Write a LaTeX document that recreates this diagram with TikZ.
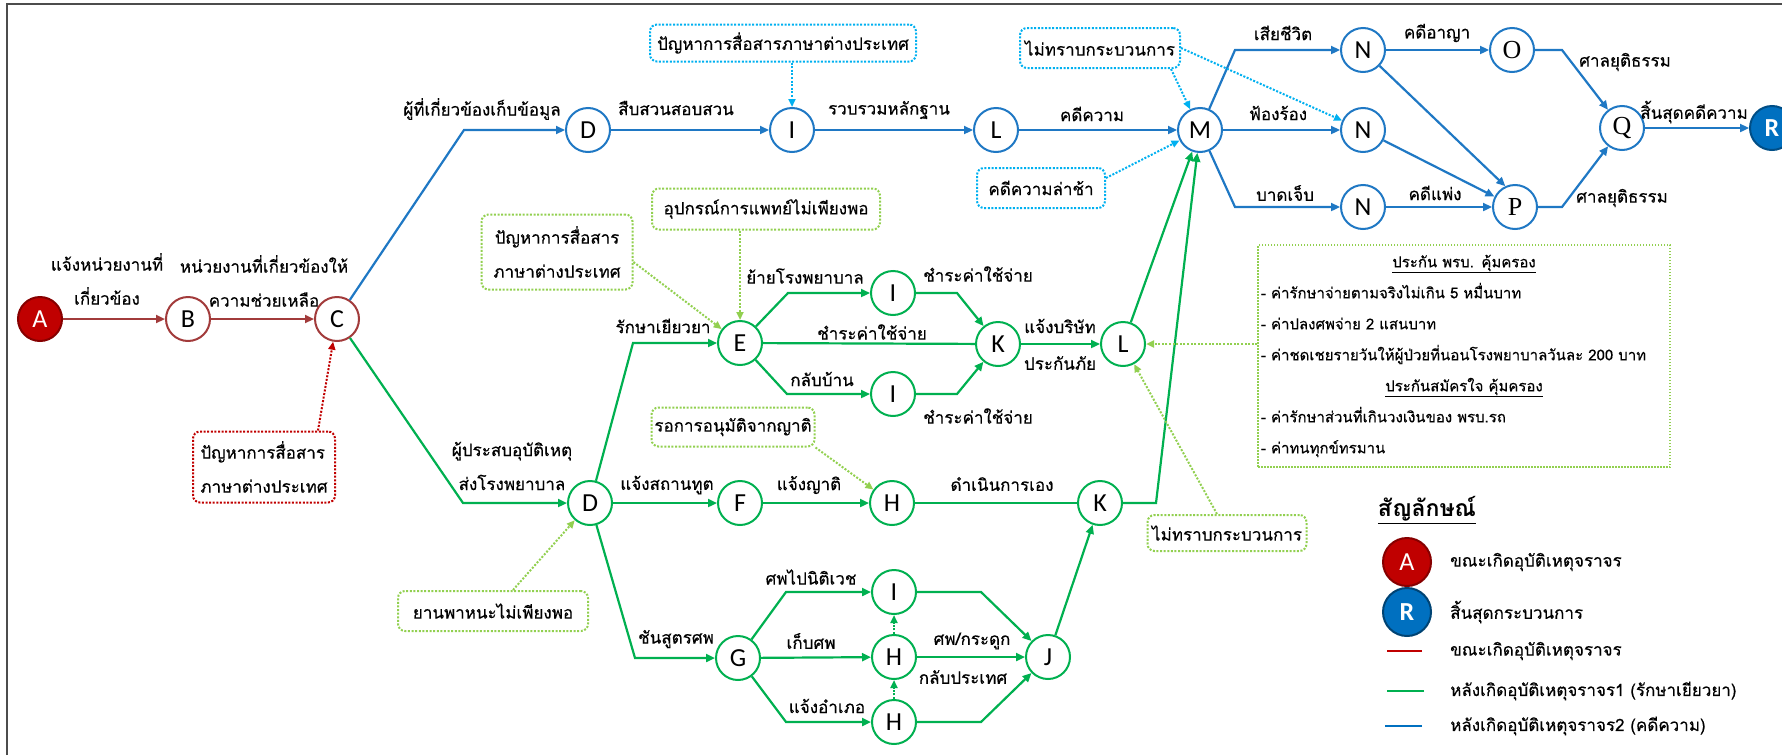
\documentclass[tikz,border=0pt]{standalone}
\usepackage{fontspec}
\setmainfont[Script=Thai,UprightFeatures={FakeBold=0.4}]{Loma}
\newfontfamily\ltrfont{Carlito}
\newfontfamily\serfont{Liberation Serif}
\usetikzlibrary{arrows.meta,positioning}

\definecolor{rdline}{HTML}{A23B3B}
\definecolor{rdfill}{HTML}{C00000}
\definecolor{blline}{HTML}{1F78C4}
\definecolor{blfill}{HTML}{0070C0}
\definecolor{grline}{HTML}{00B050}
\definecolor{grdot}{HTML}{92D050}
\definecolor{bldot}{HTML}{00B0F0}

\tikzset{
  stn/.style={circle,draw,line width=2pt,minimum size=44pt,inner sep=0pt,fill=white,
    font=\ltrfont\fontsize{26}{26}\selectfont},
  rn/.style={stn,draw=rdline},
  bn/.style={stn,draw=blline},
  gn/.style={stn,draw=grline},
  lbl/.style={font=\fontsize{17}{34}\selectfont,align=center,inner sep=1pt},
  tip/.style={-{Triangle[length=9pt,width=8pt]}},
  rline/.style={draw=rdline,line width=2.2pt},
  bline/.style={draw=blline,line width=2.2pt},
  gline/.style={draw=grline,line width=2.2pt},
  dots/.style={line width=2pt,dash pattern=on 2pt off 1.6pt},
  dbox/.style={lbl,dots,rounded corners=7pt,inner sep=0pt},
  dtip/.style={dots,-{Triangle[length=8pt,width=7pt]}},
  lgtxt/.style={lbl,anchor=west},
}

\begin{document}
\begin{tikzpicture}[x=1pt,y=-1pt]
\useasboundingbox (0,0) rectangle (1782,755);
\draw[line width=1.5pt,black!70] (7,755) -- (7,4) -- (1782,4);

% red part
\node[stn,fill=rdfill,draw=rdfill!70!black,text=white] (A) at (40,319) {A};
\node[rn] (B) at (188,319) {B};
\node[rn] (C) at (337,319) {C};
\node[lbl] (lAB) at (107,279) {แจ้งหน่วยงานที่\\เกี่ยวข้อง};
\node[lbl] (lBC) at (264,281) {หน่วยงานที่เกี่ยวข้องให้\\ความช่วยเหลือ};
\node[dbox,draw=rdfill,minimum width=142pt,minimum height=71pt,align=left] (rbox) at (264,467) {ปัญหาการสื่อสาร\\ภาษาต่างประเทศ};
\draw[rline,tip] (A) -- (B);
\draw[rline,tip] (B) -- (C);
\draw[dtip,rdfill] ([xshift=54pt]rbox.north) -- (C);

% blue part
\node[bn] (D1) at (588,130) {D};
\node[bn] (I1) at (792,130) {I};
\node[bn] (L1) at (996,130) {L};
\node[bn] (M) at (1200,130) {M};
\node[bn] (N1) at (1363,50) {N};
\node[bn] (N2) at (1363,130) {N};
\node[bn] (N3) at (1363,207) {N};
\node[bn,font=\serfont\fontsize{26}{26}\selectfont] (O) at (1512,50) {O};
\node[bn,font=\serfont\fontsize{26}{26}\selectfont] (P) at (1515,207) {P};
\node[bn,font=\serfont\fontsize{26}{26}\selectfont] (Q) at (1622,128) {Q};
\node[stn,fill=blfill,draw=blfill!70!black,text=white,font=\ltrfont\bfseries\fontsize{26}{26}\selectfont] (R) at (1772,128) {R};
\coordinate (c1) at (464,130);
\coordinate (c14) at (1235,50);
\coordinate (c15) at (1235,207);
\coordinate (c16) at (1562,50);
\coordinate (c17) at (1562,207);
\node[lbl] (lCD) at (482,109) {ผู้ที่เกี่ยวข้องเก็บข้อมูล};
\node[lbl] (lDI) at (676,108) {สืบสวนสอบสวน};
\node[lbl] (lIL) at (889,110) {รวบรวมหลักฐาน};
\node[lbl] (lLM) at (1092,114) {คดีความ};
\node[lbl] (lMN1) at (1283,33) {เสียชีวิต};
\node[lbl] (lMN2) at (1278,113) {ฟ้องร้อง};
\node[lbl] (lMN3) at (1285,193) {บาดเจ็บ};
\node[lbl] (lNO) at (1437,33) {คดีอาญา};
\node[lbl] (lNP) at (1435,193) {คดีแพ่ง};
\node[lbl] (lOQ) at (1625,62) {ศาลยุติธรรม};
\node[lbl] (lPQ) at (1622,198) {ศาลยุติธรรม};
\node[lbl] (lQR) at (1694,112) {สิ้นสุดคดีความ};
\node[dbox,draw=bldot,minimum width=266pt,minimum height=37pt] (bbox1) at (783,43) {ปัญหาการสื่อสารภาษาต่างประเทศ};
\node[dbox,draw=bldot,minimum width=160pt,minimum height=40pt] (bbox2) at (1100,48) {ไม่ทราบกระบวนการ};
\node[dbox,draw=bldot,minimum width=128pt,minimum height=40pt] (bbox3) at (1041,188) {คดีความล่าช้า};
\draw[bline,tip] (C) -- (c1) -- (D1);
\draw[bline,tip] (D1) -- (I1);
\draw[bline,tip] (I1) -- (L1);
\draw[bline,tip] (L1) -- (M);
\draw[bline,tip] (M) -- (c14) -- (N1);
\draw[bline,tip] (M) -- (N2);
\draw[bline,tip] (M) -- (c15) -- (N3);
\draw[bline,tip] (N1) -- (O);
\draw[bline,tip] (N1) -- (P.115);
\draw[bline,tip] (N2) -- (P);
\draw[bline,tip] (N3) -- (P);
\draw[bline,tip] (O) -- (c16) -- (Q);
\draw[bline,tip] (P) -- (c17) -- (Q);
\draw[bline,tip] (Q) -- (R);
\draw[dtip,bldot] (bbox1.south -| I1) -- (I1);
\draw[dtip,bldot] ([xshift=-10pt]bbox2.south east) -- (M);
\draw[dtip,bldot] (bbox2.east) -- (N2);
\draw[dtip,bldot] ([yshift=10pt]bbox3.east) -- (M);

% green part
\node[gn] (E) at (740,343) {E};
\node[gn] (I2) at (893,293) {I};
\node[gn] (I3) at (893,394) {I};
\node[gn] (K1) at (998,344) {K};
\node[gn] (L2) at (1123,344) {L};
\node[gn] (D2) at (590,503) {D};
\node[gn] (F) at (740,503) {F};
\node[gn] (H1) at (892,503) {H};
\node[gn] (K2) at (1100,503) {K};
\node[gn] (G) at (738,658) {G};
\node[gn] (I4) at (894,592) {I};
\node[gn] (H2) at (894,657) {H};
\node[gn] (H3) at (894,722) {H};
\node[gn] (J) at (1048,657) {J};
\coordinate (c2) at (463,503);
\coordinate (c3) at (633,343);
\coordinate (c4) at (635,658);
\coordinate (c5) at (788,293);
\coordinate (c6) at (787,394);
\coordinate (c7) at (957,293);
\coordinate (c8) at (957,394);
\coordinate (c9) at (1156,503);
\coordinate (c10) at (786,592);
\coordinate (c11) at (786,722);
\coordinate (c12) at (981,592);
\coordinate (c13) at (981,722);
\node[lbl] (lCD2) at (512,466) {ผู้ประสบอุบัติเหตุ\\ส่งโรงพยาบาล};
\node[lbl] (lDE) at (663,326) {รักษาเยียวยา};
\node[lbl] (lDF) at (667,485) {แจ้งสถานทูต};
\node[lbl] (lDG) at (676,639) {ชันสูตรศพ};
\node[lbl] (lEI) at (805,276) {ย้ายโรงพยาบาล};
\node[lbl] (lEK) at (872,332) {ชำระค่าใช้จ่าย};
\node[lbl] (lEI3) at (822,379) {กลับบ้าน};
\node[lbl] (lIK) at (978,274) {ชำระค่าใช้จ่าย};
\node[lbl] (lIK3) at (978,416) {ชำระค่าใช้จ่าย};
\node[lbl] (lKL) at (1060,326) {แจ้งบริษัท};
\node[lbl] (lKL2) at (1060,363) {ประกันภัย};
\node[lbl] (lFH) at (809,485) {แจ้งญาติ};
\node[lbl] (lHK) at (1002,484) {ดำเนินการเอง};
\node[lbl] (lGI) at (811,577) {ศพไปนิติเวช};
\node[lbl] (lGH) at (811,641) {เก็บศพ};
\node[lbl] (lGH3) at (827,706) {แจ้งอำเภอ};
\node[lbl] (lHJ) at (972,641) {ศพ/กระดูก};
\node[lbl] (lHJ2) at (963,677) {กลับประเทศ};
\node[dbox,draw=grdot,minimum width=151pt,minimum height=75pt] (gb1) at (557,252) {ปัญหาการสื่อสาร\\ภาษาต่างประเทศ};
\node[dbox,draw=grdot,minimum width=228pt,minimum height=41pt] (gb2) at (766,209) {อุปกรณ์การแพทย์ไม่เพียงพอ};
\node[dbox,draw=grdot,minimum width=163pt,minimum height=39pt] (gb3) at (733,427) {รอการอนุมัติจากญาติ};
\node[dbox,draw=grdot,minimum width=190pt,minimum height=40pt] (gb4) at (493,611) {ยานพาหนะไม่เพียงพอ};
\node[dbox,draw=grdot,minimum width=159pt,minimum height=36pt] (gb5) at (1227,533) {ไม่ทราบกระบวนการ};
\node[draw=grdot,line width=1.2pt,dash pattern=on 1.5pt off 1.5pt,minimum width=412pt,minimum height=222pt,
  text width=406pt,inner sep=3pt,font=\fontsize{15}{31}\selectfont] (info) at (1464,356) {%
  \parindent=0pt
  {\centering\underline{ประกัน พรบ. คุ้มครอง}\par}
  - ค่ารักษาจ่ายตามจริงไม่เกิน 5 หมื่นบาท\par
  - ค่าปลงศพจ่าย 2 แสนบาท\par
  - ค่าชดเชยรายวันให้ผู้ป่วยที่นอนโรงพยาบาลวันละ 200 บาท\par
  {\centering\underline{ประกันสมัครใจ คุ้มครอง}\par}
  - ค่ารักษาส่วนที่เกินวงเงินของ พรบ.รถ\par
  - ค่าทนทุกข์ทรมาน};
\draw[gline,tip] (C) -- (c2) -- (D2);
\draw[gline,tip] (D2) -- (c3) -- (E);
\draw[gline,tip] (D2) -- (F);
\draw[gline,tip] (D2) -- (c4) -- (G);
\draw[gline,tip] (E) -- (c5) -- (I2);
\draw[gline] (E) -- (K1);
\draw[gline,tip] (E) -- (c6) -- (I3);
\draw[gline,tip] (I2) -- (c7) -- (K1);
\draw[gline,tip] (I3) -- (c8) -- (K1);
\draw[gline,tip] (K1) -- (L2);
\draw[gline,tip] (L2) -- (M);
\draw[gline,tip] (F) -- (H1);
\draw[gline] (H1) -- (K2);
\draw[gline,tip] (K2) -- (c9) -- (M);
\draw[gline,tip] (G) -- (c10) -- (I4);
\draw[gline,tip] (G) -- (H2);
\draw[gline,tip] (G) -- (c11) -- (H3);
\draw[gline,tip] (I4) -- (c12) -- (J);
\draw[gline,tip] (H2) -- (J);
\draw[gline,tip] (H3) -- (c13) -- (J);
\draw[gline,tip] (J) -- (K2);
\draw[dtip,grline] (H2) -- (I4);
\draw[dtip,grline] (H3) -- (H2);
\draw[dtip,grdot] ([yshift=-10pt]gb1.east) -- (E);
\draw[dtip,grdot] (gb2.south -| E) -- (E);
\draw[dtip,grdot] (gb3.south east) -- (H1);
\draw[dtip,grdot] ([xshift=20pt]gb4.north) -- (D2);
\draw[dtip,grdot] ([xshift=-10pt]gb5.north) -- (L2);
\draw[dtip,grdot] (L2 -| info.west) -- (L2);

% legend
\node[lbl,font=\bfseries\fontsize{23}{23}\selectfont] (lgtitle) at (1427,510) {\underline{สัญลักษณ์}};
\node[stn,minimum size=48pt,fill=rdfill,draw=rdfill!70!black,text=white] (lgA) at (1407,562) {A};
\node[stn,minimum size=48pt,fill=blfill,draw=blfill!60!black,text=white,font=\ltrfont\bfseries\fontsize{26}{26}\selectfont] (lgR) at (1407,612) {R};
\node[lgtxt] (lgt1) at (1449,562) {ขณะเกิดอุบัติเหตุจราจร};
\node[lgtxt] (lgt2) at (1449,612) {สิ้นสุดกระบวนการ};
\node[lgtxt] (lgt3) at (1449,651) {ขณะเกิดอุบัติเหตุจราจร};
\node[lgtxt] (lgt4) at (1449,691) {หลังเกิดอุบัติเหตุจราจร1 (รักษาเยียวยา)};
\node[lgtxt] (lgt5) at (1449,726) {หลังเกิดอุบัติเหตุจราจร2 (คดีความ)};
\draw[rdfill,line width=2.5pt] ([xshift=-27pt]lgt3.west) -- ++(-35,0);
\draw[grline,line width=2.5pt] ([xshift=-25pt]lgt4.west) -- ++(-37,0);
\draw[blfill,line width=2.5pt] ([xshift=-27pt]lgt5.west) -- ++(-37,0);
\end{tikzpicture}
\end{document}
